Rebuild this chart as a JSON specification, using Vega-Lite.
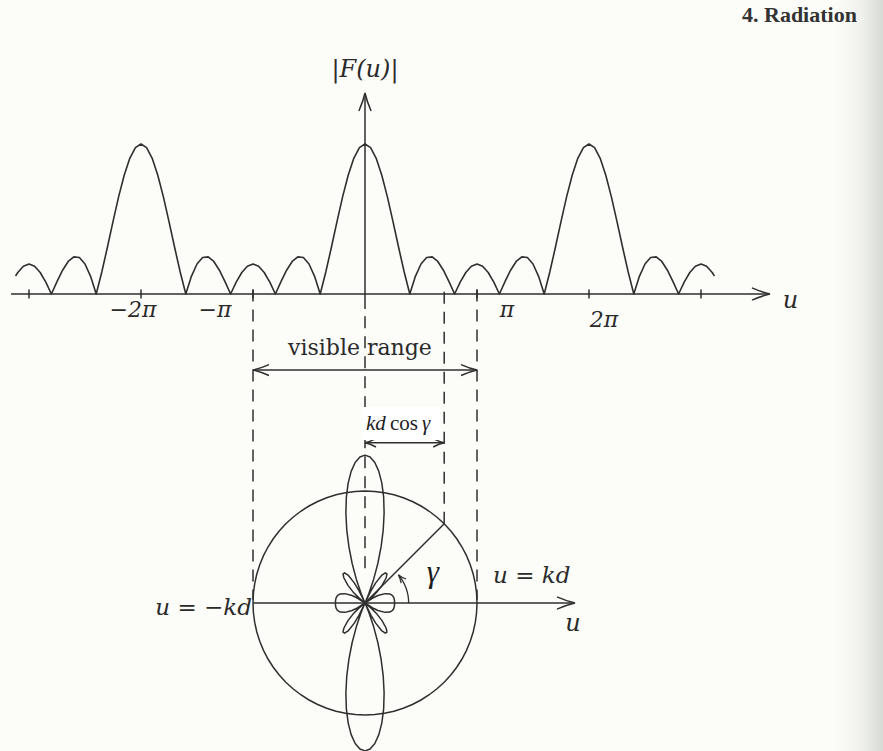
{
  "$schema": "https://vega.github.io/schema/vega-lite/v6.json",
  "width": 883,
  "height": 751,
  "padding": 0,
  "autosize": "none",
  "background": "#fcfcf9",
  "config": {"view": {"stroke": null}},
  "encoding": {
    "x": {"field": "x", "type": "quantitative", "scale": {"domain": [-3.2589, 4.625], "nice": false, "zero": false}, "axis": null}
  },
  "resolve": {"scale": {"y": "independent"}},
  "layer": [
    {
      "encoding": {
        "y": {"field": "y", "type": "quantitative", "scale": {"domain": [-3.0467, 1.96], "nice": false, "zero": false}, "axis": null}
      },
      "layer": [
        {
          "data": {"values": [
            {"x": -3.12, "y": 0.1197}, {"x": -3.1, "y": 0.1432}, {"x": -3.05, "y": 0.1853}, {"x": -3.0, "y": 0.2},
            {"x": -2.95, "y": 0.1853}, {"x": -2.9, "y": 0.1432}, {"x": -2.85, "y": 0.0787}, {"x": -2.8, "y": 0},
            {"x": -2.75, "y": 0.0828}, {"x": -2.7, "y": 0.1587}, {"x": -2.65, "y": 0.2167}, {"x": -2.6, "y": 0.2472},
            {"x": -2.55, "y": 0.243}, {"x": -2.5, "y": 0.2}, {"x": -2.45, "y": 0.1179}, {"x": -2.4, "y": 0},
            {"x": -2.35, "y": 0.1465}, {"x": -2.3, "y": 0.3115}, {"x": -2.25, "y": 0.4828}, {"x": -2.2, "y": 0.6472},
            {"x": -2.15, "y": 0.7917}, {"x": -2.1, "y": 0.9042}, {"x": -2.05, "y": 0.9755}, {"x": -2.0, "y": 1},
            {"x": -1.95, "y": 0.9755}, {"x": -1.9, "y": 0.9042}, {"x": -1.85, "y": 0.7917}, {"x": -1.8, "y": 0.6472},
            {"x": -1.75, "y": 0.4828}, {"x": -1.7, "y": 0.3115}, {"x": -1.65, "y": 0.1465}, {"x": -1.6, "y": 0},
            {"x": -1.55, "y": 0.1179}, {"x": -1.5, "y": 0.2}, {"x": -1.45, "y": 0.243}, {"x": -1.4, "y": 0.2472},
            {"x": -1.35, "y": 0.2167}, {"x": -1.3, "y": 0.1587}, {"x": -1.25, "y": 0.0828}, {"x": -1.2, "y": 0},
            {"x": -1.15, "y": 0.0787}, {"x": -1.1, "y": 0.1432}, {"x": -1.05, "y": 0.1853}, {"x": -1.0, "y": 0.2},
            {"x": -0.95, "y": 0.1853}, {"x": -0.9, "y": 0.1432}, {"x": -0.85, "y": 0.0787}, {"x": -0.8, "y": 0},
            {"x": -0.75, "y": 0.0828}, {"x": -0.7, "y": 0.1587}, {"x": -0.65, "y": 0.2167}, {"x": -0.6, "y": 0.2472},
            {"x": -0.55, "y": 0.243}, {"x": -0.5, "y": 0.2}, {"x": -0.45, "y": 0.1179}, {"x": -0.4, "y": 0},
            {"x": -0.35, "y": 0.1465}, {"x": -0.3, "y": 0.3115}, {"x": -0.25, "y": 0.4828}, {"x": -0.2, "y": 0.6472},
            {"x": -0.15, "y": 0.7917}, {"x": -0.1, "y": 0.9042}, {"x": -0.05, "y": 0.9755}, {"x": 0.0, "y": 1},
            {"x": 0.05, "y": 0.9755}, {"x": 0.1, "y": 0.9042}, {"x": 0.15, "y": 0.7917}, {"x": 0.2, "y": 0.6472},
            {"x": 0.25, "y": 0.4828}, {"x": 0.3, "y": 0.3115}, {"x": 0.35, "y": 0.1465}, {"x": 0.4, "y": 0},
            {"x": 0.45, "y": 0.1179}, {"x": 0.5, "y": 0.2}, {"x": 0.55, "y": 0.243}, {"x": 0.6, "y": 0.2472},
            {"x": 0.65, "y": 0.2167}, {"x": 0.7, "y": 0.1587}, {"x": 0.75, "y": 0.0828}, {"x": 0.8, "y": 0},
            {"x": 0.85, "y": 0.0787}, {"x": 0.9, "y": 0.1432}, {"x": 0.95, "y": 0.1853}, {"x": 1.0, "y": 0.2},
            {"x": 1.05, "y": 0.1853}, {"x": 1.1, "y": 0.1432}, {"x": 1.15, "y": 0.0787}, {"x": 1.2, "y": 0},
            {"x": 1.25, "y": 0.0828}, {"x": 1.3, "y": 0.1587}, {"x": 1.35, "y": 0.2167}, {"x": 1.4, "y": 0.2472},
            {"x": 1.45, "y": 0.243}, {"x": 1.5, "y": 0.2}, {"x": 1.55, "y": 0.1179}, {"x": 1.6, "y": 0},
            {"x": 1.65, "y": 0.1465}, {"x": 1.7, "y": 0.3115}, {"x": 1.75, "y": 0.4828}, {"x": 1.8, "y": 0.6472},
            {"x": 1.85, "y": 0.7917}, {"x": 1.9, "y": 0.9042}, {"x": 1.95, "y": 0.9755}, {"x": 2.0, "y": 1},
            {"x": 2.05, "y": 0.9755}, {"x": 2.1, "y": 0.9042}, {"x": 2.15, "y": 0.7917}, {"x": 2.2, "y": 0.6472},
            {"x": 2.25, "y": 0.4828}, {"x": 2.3, "y": 0.3115}, {"x": 2.35, "y": 0.1465}, {"x": 2.4, "y": 0},
            {"x": 2.45, "y": 0.1179}, {"x": 2.5, "y": 0.2}, {"x": 2.55, "y": 0.243}, {"x": 2.6, "y": 0.2472},
            {"x": 2.65, "y": 0.2167}, {"x": 2.7, "y": 0.1587}, {"x": 2.75, "y": 0.0828}, {"x": 2.8, "y": 0},
            {"x": 2.85, "y": 0.0787}, {"x": 2.9, "y": 0.1432}, {"x": 2.95, "y": 0.1853}, {"x": 3.0, "y": 0.2},
            {"x": 3.05, "y": 0.1853}, {"x": 3.1, "y": 0.1432}, {"x": 3.12, "y": 0.1197}
          ]},
          "mark": {"type": "line", "color": "#2f2f2f", "strokeWidth": 1.6, "strokeJoin": "round"}
        },
        {
          "data": {"values": [
            {"x": -3.16, "x2": 3.6, "y": 0, "y2": 0},
            {"x": 0, "x2": 0, "y": -0.1, "y2": 1.33},
            {"x": -3, "x2": -3, "y": -0.03, "y2": 0.03},
            {"x": -2, "x2": -2, "y": -0.03, "y2": 0.03},
            {"x": -1, "x2": -1, "y": -0.03, "y2": 0.03},
            {"x": 1, "x2": 1, "y": -0.03, "y2": 0.03},
            {"x": 2, "x2": 2, "y": -0.03, "y2": 0.03},
            {"x": 3, "x2": 3, "y": -0.03, "y2": 0.03}
          ]},
          "mark": {"type": "rule", "color": "#2f2f2f", "strokeWidth": 1.5},
          "encoding": {"x2": {"field": "x2"}, "y2": {"field": "y2"}}
        },
        {
          "data": {"values": [{"x": 3.616, "y": 0}]},
          "mark": {"type": "point", "shape": "M-1,-0.34Q-0.45,-0.1 0,0Q-0.45,0.1 -1,0.34", "filled": false, "size": 1296, "angle": 0, "stroke": "#2f2f2f", "strokeWidth": 1.5, "opacity": 1}
        },
        {
          "data": {"values": [{"x": 0, "y": 1.34}]},
          "mark": {"type": "point", "shape": "M-1,-0.34Q-0.45,-0.1 0,0Q-0.45,0.1 -1,0.34", "filled": false, "size": 1296, "angle": 270, "stroke": "#2f2f2f", "strokeWidth": 1.5, "opacity": 1}
        },
        {
          "data": {"values": [{"x": 0, "y": 1.447, "label": "|F(u)|"}]},
          "mark": {"type": "text", "font": "DejaVu Serif", "fontStyle": "italic", "fontSize": 24, "align": "center", "baseline": "alphabetic", "color": "#2a2a2a"},
          "encoding": {"text": {"field": "label"}}
        },
        {
          "data": {"values": [{"x": 3.8, "y": -0.093, "label": "u"}]},
          "mark": {"type": "text", "font": "DejaVu Serif", "fontStyle": "italic", "fontSize": 24, "align": "center", "baseline": "alphabetic", "color": "#2a2a2a"},
          "encoding": {"text": {"field": "label"}}
        },
        {
          "data": {"values": [
            {"x": -2.071, "y": -0.153, "label": "−2π"},
            {"x": -1.339, "y": -0.153, "label": "−π"},
            {"x": 1.268, "y": -0.153, "label": "π"},
            {"x": 2.134, "y": -0.22, "label": "2π"}
          ]},
          "mark": {"type": "text", "font": "DejaVu Serif", "fontStyle": "italic", "fontSize": 22, "align": "center", "baseline": "alphabetic", "color": "#2a2a2a"},
          "encoding": {"text": {"field": "label"}}
        }
      ]
    },
    {
      "encoding": {
        "y": {"field": "y", "type": "quantitative", "scale": {"domain": [-1.3214, 5.3839], "nice": false, "zero": false}, "axis": null}
      },
      "layer": [
        {
          "data": {"values": [{"x": 4.196, "x2": 4.625, "y": -1.3214, "y2": 5.3839}]},
          "mark": {"type": "rect", "fill": {"x1": 0, "y1": 0, "x2": 1, "y2": 0, "gradient": "linear", "stops": [{"offset": 0, "color": "#fcfcf9"}, {"offset": 0.55, "color": "#f0f1ed"}, {"offset": 1, "color": "#d6dad4"}]}},
          "encoding": {"x2": {"field": "x2"}, "y2": {"field": "y2"}}
        },
        {
          "data": {"values": [
            {"deg": 0, "x": 1, "y": 0}, {"deg": 5, "x": 0.9962, "y": 0.0872}, {"deg": 10, "x": 0.9848, "y": 0.1736},
            {"deg": 15, "x": 0.9659, "y": 0.2588}, {"deg": 20, "x": 0.9397, "y": 0.342}, {"deg": 25, "x": 0.9063, "y": 0.4226},
            {"deg": 30, "x": 0.866, "y": 0.5}, {"deg": 35, "x": 0.8192, "y": 0.5736}, {"deg": 40, "x": 0.766, "y": 0.6428},
            {"deg": 45, "x": 0.7071, "y": 0.7071}, {"deg": 50, "x": 0.6428, "y": 0.766}, {"deg": 55, "x": 0.5736, "y": 0.8192},
            {"deg": 60, "x": 0.5, "y": 0.866}, {"deg": 65, "x": 0.4226, "y": 0.9063}, {"deg": 70, "x": 0.342, "y": 0.9397},
            {"deg": 75, "x": 0.2588, "y": 0.9659}, {"deg": 80, "x": 0.1736, "y": 0.9848}, {"deg": 85, "x": 0.0872, "y": 0.9962},
            {"deg": 90, "x": 0, "y": 1}, {"deg": 95, "x": -0.0872, "y": 0.9962}, {"deg": 100, "x": -0.1736, "y": 0.9848},
            {"deg": 105, "x": -0.2588, "y": 0.9659}, {"deg": 110, "x": -0.342, "y": 0.9397}, {"deg": 115, "x": -0.4226, "y": 0.9063},
            {"deg": 120, "x": -0.5, "y": 0.866}, {"deg": 125, "x": -0.5736, "y": 0.8192}, {"deg": 130, "x": -0.6428, "y": 0.766},
            {"deg": 135, "x": -0.7071, "y": 0.7071}, {"deg": 140, "x": -0.766, "y": 0.6428}, {"deg": 145, "x": -0.8192, "y": 0.5736},
            {"deg": 150, "x": -0.866, "y": 0.5}, {"deg": 155, "x": -0.9063, "y": 0.4226}, {"deg": 160, "x": -0.9397, "y": 0.342},
            {"deg": 165, "x": -0.9659, "y": 0.2588}, {"deg": 170, "x": -0.9848, "y": 0.1736}, {"deg": 175, "x": -0.9962, "y": 0.0872},
            {"deg": 180, "x": -1, "y": 0}, {"deg": 185, "x": -0.9962, "y": -0.0872}, {"deg": 190, "x": -0.9848, "y": -0.1736},
            {"deg": 195, "x": -0.9659, "y": -0.2588}, {"deg": 200, "x": -0.9397, "y": -0.342}, {"deg": 205, "x": -0.9063, "y": -0.4226},
            {"deg": 210, "x": -0.866, "y": -0.5}, {"deg": 215, "x": -0.8192, "y": -0.5736}, {"deg": 220, "x": -0.766, "y": -0.6428},
            {"deg": 225, "x": -0.7071, "y": -0.7071}, {"deg": 230, "x": -0.6428, "y": -0.766}, {"deg": 235, "x": -0.5736, "y": -0.8192},
            {"deg": 240, "x": -0.5, "y": -0.866}, {"deg": 245, "x": -0.4226, "y": -0.9063}, {"deg": 250, "x": -0.342, "y": -0.9397},
            {"deg": 255, "x": -0.2588, "y": -0.9659}, {"deg": 260, "x": -0.1736, "y": -0.9848}, {"deg": 265, "x": -0.0872, "y": -0.9962},
            {"deg": 270, "x": 0, "y": -1}, {"deg": 275, "x": 0.0872, "y": -0.9962}, {"deg": 280, "x": 0.1736, "y": -0.9848},
            {"deg": 285, "x": 0.2588, "y": -0.9659}, {"deg": 290, "x": 0.342, "y": -0.9397}, {"deg": 295, "x": 0.4226, "y": -0.9063},
            {"deg": 300, "x": 0.5, "y": -0.866}, {"deg": 305, "x": 0.5736, "y": -0.8192}, {"deg": 310, "x": 0.6428, "y": -0.766},
            {"deg": 315, "x": 0.7071, "y": -0.7071}, {"deg": 320, "x": 0.766, "y": -0.6428}, {"deg": 325, "x": 0.8192, "y": -0.5736},
            {"deg": 330, "x": 0.866, "y": -0.5}, {"deg": 335, "x": 0.9063, "y": -0.4226}, {"deg": 340, "x": 0.9397, "y": -0.342},
            {"deg": 345, "x": 0.9659, "y": -0.2588}, {"deg": 350, "x": 0.9848, "y": -0.1736}, {"deg": 355, "x": 0.9962, "y": -0.0872},
            {"deg": 360, "x": 1, "y": 0}
          ]},
          "mark": {"type": "line", "color": "#2f2f2f", "strokeWidth": 1.5},
          "encoding": {"order": {"field": "deg", "type": "quantitative"}}
        },
        {
          "data": {"values": [
            {"deg": 0, "x": 0.264, "y": 0}, {"deg": 5, "x": 0.263, "y": 0.023}, {"deg": 10, "x": 0.2582, "y": 0.0455},
            {"deg": 15, "x": 0.2462, "y": 0.066}, {"deg": 20, "x": 0.2218, "y": 0.0807}, {"deg": 25, "x": 0.1793, "y": 0.0836},
            {"deg": 30, "x": 0.1158, "y": 0.0669}, {"deg": 33, "x": 0.0684, "y": 0.0444}, {"deg": 36.87, "x": 0, "y": 0},
            {"deg": 40, "x": 0.0571, "y": 0.048}, {"deg": 43, "x": 0.1086, "y": 0.1013}, {"deg": 46, "x": 0.1522, "y": 0.1576},
            {"deg": 50, "x": 0.1892, "y": 0.2255}, {"deg": 53, "x": 0.196, "y": 0.26}, {"deg": 56, "x": 0.182, "y": 0.2698},
            {"deg": 59, "x": 0.1477, "y": 0.2458}, {"deg": 62, "x": 0.0955, "y": 0.1797}, {"deg": 64, "x": 0.0542, "y": 0.1111},
            {"deg": 66.42, "x": 0, "y": 0}, {"deg": 68, "x": 0.0354, "y": 0.0875}, {"deg": 70, "x": 0.0775, "y": 0.2129},
            {"deg": 72, "x": 0.1146, "y": 0.3528}, {"deg": 74, "x": 0.1435, "y": 0.5005}, {"deg": 76, "x": 0.1629, "y": 0.6536},
            {"deg": 78, "x": 0.1707, "y": 0.8033}, {"deg": 80, "x": 0.1666, "y": 0.9448}, {"deg": 82, "x": 0.1504, "y": 1.0702},
            {"deg": 84, "x": 0.1235, "y": 1.175}, {"deg": 86, "x": 0.0878, "y": 1.2546}, {"deg": 88, "x": 0.0455, "y": 1.3035},
            {"deg": 90, "x": 0, "y": 1.32},
            {"deg": 92, "x": -0.0455, "y": 1.3035}, {"deg": 94, "x": -0.0878, "y": 1.2546}, {"deg": 96, "x": -0.1235, "y": 1.175},
            {"deg": 98, "x": -0.1504, "y": 1.0702}, {"deg": 100, "x": -0.1666, "y": 0.9448}, {"deg": 102, "x": -0.1707, "y": 0.8033},
            {"deg": 104, "x": -0.1629, "y": 0.6536}, {"deg": 106, "x": -0.1435, "y": 0.5005}, {"deg": 108, "x": -0.1146, "y": 0.3528},
            {"deg": 110, "x": -0.0775, "y": 0.2129}, {"deg": 112, "x": -0.0354, "y": 0.0875}, {"deg": 113.58, "x": 0, "y": 0},
            {"deg": 116, "x": -0.0542, "y": 0.1111}, {"deg": 118, "x": -0.0955, "y": 0.1797}, {"deg": 121, "x": -0.1477, "y": 0.2458},
            {"deg": 124, "x": -0.182, "y": 0.2698}, {"deg": 127, "x": -0.196, "y": 0.26}, {"deg": 130, "x": -0.1892, "y": 0.2255},
            {"deg": 134, "x": -0.1522, "y": 0.1576}, {"deg": 137, "x": -0.1086, "y": 0.1013}, {"deg": 140, "x": -0.0571, "y": 0.048},
            {"deg": 143.13, "x": 0, "y": 0}, {"deg": 147, "x": -0.0684, "y": 0.0444}, {"deg": 150, "x": -0.1158, "y": 0.0669},
            {"deg": 155, "x": -0.1793, "y": 0.0836}, {"deg": 160, "x": -0.2218, "y": 0.0807}, {"deg": 165, "x": -0.2462, "y": 0.066},
            {"deg": 170, "x": -0.2582, "y": 0.0455}, {"deg": 175, "x": -0.263, "y": 0.023}, {"deg": 180, "x": -0.264, "y": 0},
            {"deg": 185, "x": -0.263, "y": -0.023}, {"deg": 190, "x": -0.2582, "y": -0.0455}, {"deg": 195, "x": -0.2462, "y": -0.066},
            {"deg": 200, "x": -0.2218, "y": -0.0807}, {"deg": 205, "x": -0.1793, "y": -0.0836}, {"deg": 210, "x": -0.1158, "y": -0.0669},
            {"deg": 213, "x": -0.0684, "y": -0.0444}, {"deg": 216.87, "x": 0, "y": 0}, {"deg": 220, "x": -0.0571, "y": -0.048},
            {"deg": 223, "x": -0.1086, "y": -0.1013}, {"deg": 226, "x": -0.1522, "y": -0.1576}, {"deg": 230, "x": -0.1892, "y": -0.2255},
            {"deg": 233, "x": -0.196, "y": -0.26}, {"deg": 236, "x": -0.182, "y": -0.2698}, {"deg": 239, "x": -0.1477, "y": -0.2458},
            {"deg": 242, "x": -0.0955, "y": -0.1797}, {"deg": 244, "x": -0.0542, "y": -0.1111}, {"deg": 246.42, "x": 0, "y": 0},
            {"deg": 248, "x": -0.0354, "y": -0.0875}, {"deg": 250, "x": -0.0775, "y": -0.2129}, {"deg": 252, "x": -0.1146, "y": -0.3528},
            {"deg": 254, "x": -0.1435, "y": -0.5005}, {"deg": 256, "x": -0.1629, "y": -0.6536}, {"deg": 258, "x": -0.1707, "y": -0.8033},
            {"deg": 260, "x": -0.1666, "y": -0.9448}, {"deg": 262, "x": -0.1504, "y": -1.0702}, {"deg": 264, "x": -0.1235, "y": -1.175},
            {"deg": 266, "x": -0.0878, "y": -1.2546}, {"deg": 268, "x": -0.0455, "y": -1.3035}, {"deg": 270, "x": 0, "y": -1.32},
            {"deg": 272, "x": 0.0455, "y": -1.3035}, {"deg": 274, "x": 0.0878, "y": -1.2546}, {"deg": 276, "x": 0.1235, "y": -1.175},
            {"deg": 278, "x": 0.1504, "y": -1.0702}, {"deg": 280, "x": 0.1666, "y": -0.9448}, {"deg": 282, "x": 0.1707, "y": -0.8033},
            {"deg": 284, "x": 0.1629, "y": -0.6536}, {"deg": 286, "x": 0.1435, "y": -0.5005}, {"deg": 288, "x": 0.1146, "y": -0.3528},
            {"deg": 290, "x": 0.0775, "y": -0.2129}, {"deg": 292, "x": 0.0354, "y": -0.0875}, {"deg": 293.58, "x": 0, "y": 0},
            {"deg": 296, "x": 0.0542, "y": -0.1111}, {"deg": 298, "x": 0.0955, "y": -0.1797}, {"deg": 301, "x": 0.1477, "y": -0.2458},
            {"deg": 304, "x": 0.182, "y": -0.2698}, {"deg": 307, "x": 0.196, "y": -0.26}, {"deg": 310, "x": 0.1892, "y": -0.2255},
            {"deg": 314, "x": 0.1522, "y": -0.1576}, {"deg": 317, "x": 0.1086, "y": -0.1013}, {"deg": 320, "x": 0.0571, "y": -0.048},
            {"deg": 323.13, "x": 0, "y": 0}, {"deg": 327, "x": 0.0684, "y": -0.0444}, {"deg": 330, "x": 0.1158, "y": -0.0669},
            {"deg": 335, "x": 0.1793, "y": -0.0836}, {"deg": 340, "x": 0.2218, "y": -0.0807}, {"deg": 345, "x": 0.2462, "y": -0.066},
            {"deg": 350, "x": 0.2582, "y": -0.0455}, {"deg": 355, "x": 0.263, "y": -0.023}, {"deg": 360, "x": 0.264, "y": 0}
          ]},
          "mark": {"type": "line", "color": "#2f2f2f", "strokeWidth": 1.5, "strokeJoin": "round"},
          "encoding": {"order": {"field": "deg", "type": "quantitative"}}
        },
        {
          "data": {"values": [
            {"x": -1, "x2": -1, "y": 2.8, "y2": 0.03},
            {"x": 0, "x2": 0, "y": 2.56, "y2": 0.3},
            {"x": 0.7071, "x2": 0.7071, "y": 2.78, "y2": 0.7071},
            {"x": 1, "x2": 1, "y": 2.8, "y2": 0.03}
          ]},
          "mark": {"type": "rule", "color": "#2f2f2f", "strokeWidth": 1.5, "strokeDash": [12, 8]},
          "encoding": {"x2": {"field": "x2"}, "y2": {"field": "y2"}}
        },
        {
          "data": {"values": [
            {"x": -1, "x2": 1.86, "y": 0, "y2": 0},
            {"x": 0, "x2": 0.7071, "y": 0, "y2": 0.7071},
            {"x": -1, "x2": 1, "y": 2.08, "y2": 2.08},
            {"x": 0, "x2": 0.7071, "y": 1.43, "y2": 1.43}
          ]},
          "mark": {"type": "rule", "color": "#2f2f2f", "strokeWidth": 1.5},
          "encoding": {"x2": {"field": "x2"}, "y2": {"field": "y2"}}
        },
        {
          "data": {"values": [
            {"deg": 0, "x": 0.39, "y": 0}, {"deg": 5, "x": 0.3885, "y": 0.034}, {"deg": 10, "x": 0.3841, "y": 0.0677},
            {"deg": 15, "x": 0.3767, "y": 0.1009}, {"deg": 20, "x": 0.3665, "y": 0.1334}, {"deg": 25, "x": 0.3535, "y": 0.1648},
            {"deg": 30, "x": 0.3377, "y": 0.195}, {"deg": 35, "x": 0.3195, "y": 0.2237}, {"deg": 40, "x": 0.2988, "y": 0.2507}
          ]},
          "mark": {"type": "line", "color": "#2f2f2f", "strokeWidth": 1.3},
          "encoding": {"order": {"field": "deg", "type": "quantitative"}}
        },
        {
          "data": {"values": [{"x": 0.2988, "y": 0.2507}]},
          "mark": {"type": "point", "shape": "M-1,-0.4Q-0.45,-0.1 0,0Q-0.45,0.1 -1,0.4", "filled": false, "size": 256, "angle": 230, "stroke": "#2f2f2f", "strokeWidth": 1.3, "opacity": 1}
        },
        {
          "data": {"values": [{"x": 1.875, "y": 0}]},
          "mark": {"type": "point", "shape": "M-1,-0.34Q-0.45,-0.1 0,0Q-0.45,0.1 -1,0.34", "filled": false, "size": 1296, "angle": 0, "stroke": "#2f2f2f", "strokeWidth": 1.5, "opacity": 1}
        },
        {
          "data": {"values": [{"x": 1, "y": 2.08}]},
          "mark": {"type": "point", "shape": "M-1,-0.34Q-0.45,-0.1 0,0Q-0.45,0.1 -1,0.34", "filled": false, "size": 1024, "angle": 0, "stroke": "#2f2f2f", "strokeWidth": 1.5, "opacity": 1}
        },
        {
          "data": {"values": [{"x": -1, "y": 2.08}]},
          "mark": {"type": "point", "shape": "M-1,-0.34Q-0.45,-0.1 0,0Q-0.45,0.1 -1,0.34", "filled": false, "size": 1024, "angle": 180, "stroke": "#2f2f2f", "strokeWidth": 1.5, "opacity": 1}
        },
        {
          "data": {"values": [{"x": 0.7071, "y": 1.43}]},
          "mark": {"type": "point", "shape": "M-1,-0.38Q-0.45,-0.1 0,0Q-0.45,0.1 -1,0.38", "filled": false, "size": 484, "angle": 0, "stroke": "#2f2f2f", "strokeWidth": 1.5, "opacity": 1}
        },
        {
          "data": {"values": [{"x": 0, "y": 1.43}]},
          "mark": {"type": "point", "shape": "M-1,-0.38Q-0.45,-0.1 0,0Q-0.45,0.1 -1,0.38", "filled": false, "size": 484, "angle": 180, "stroke": "#2f2f2f", "strokeWidth": 1.5, "opacity": 1}
        },
        {
          "data": {"values": [{"x": -0.027, "x2": 0.67, "y": 1.455, "y2": 1.75}]},
          "mark": {"type": "rect", "fill": "#ffffff"},
          "encoding": {"x2": {"field": "x2"}, "y2": {"field": "y2"}}
        },
        {
          "data": {"values": [{"x": -0.045, "y": 2.214, "label": "visible range"}]},
          "mark": {"type": "text", "font": "DejaVu Serif", "fontSize": 22, "align": "center", "baseline": "alphabetic", "color": "#2a2a2a"},
          "encoding": {"text": {"field": "label"}}
        },
        {
          "data": {"values": [{"x": 1.143, "y": 0.179, "label": "u = kd"}]},
          "mark": {"type": "text", "font": "DejaVu Serif", "fontStyle": "italic", "fontSize": 23, "align": "left", "baseline": "alphabetic", "color": "#2a2a2a"},
          "encoding": {"text": {"field": "label"}}
        },
        {
          "data": {"values": [{"x": -1.009, "y": -0.107, "label": "u = −kd"}]},
          "mark": {"type": "text", "font": "DejaVu Serif", "fontStyle": "italic", "fontSize": 23, "align": "right", "baseline": "alphabetic", "color": "#2a2a2a"},
          "encoding": {"text": {"field": "label"}}
        },
        {
          "data": {"values": [{"x": 1.857, "y": -0.25, "label": "u"}]},
          "mark": {"type": "text", "font": "DejaVu Serif", "fontStyle": "italic", "fontSize": 24, "align": "center", "baseline": "alphabetic", "color": "#2a2a2a"},
          "encoding": {"text": {"field": "label"}}
        },
        {
          "data": {"values": [{"x": 0.0089, "y": 1.545, "label": "kd"}, {"x": 0.5089, "y": 1.545, "label": "γ"}]},
          "mark": {"type": "text", "font": "Liberation Serif", "fontStyle": "italic", "fontSize": 21, "align": "left", "baseline": "alphabetic", "color": "#1e1e1e"},
          "encoding": {"text": {"field": "label"}}
        },
        {
          "data": {"values": [{"x": 0.2232, "y": 1.545, "label": "cos"}]},
          "mark": {"type": "text", "font": "Liberation Serif", "fontSize": 21, "align": "left", "baseline": "alphabetic", "color": "#1e1e1e"},
          "encoding": {"text": {"field": "label"}}
        },
        {
          "data": {"values": [{"x": 0.607, "y": 0.1875, "label": "γ"}]},
          "mark": {"type": "text", "font": "Liberation Serif", "fontStyle": "italic", "fontSize": 31, "align": "center", "baseline": "alphabetic", "color": "#1e1e1e"},
          "encoding": {"text": {"field": "label"}}
        },
        {
          "data": {"values": [{"x": 3.366, "y": 5.19, "label": "4. Radiation"}]},
          "mark": {"type": "text", "font": "Liberation Serif", "fontWeight": "bold", "fontSize": 22, "align": "left", "baseline": "alphabetic", "color": "#333333"},
          "encoding": {"text": {"field": "label"}}
        }
      ]
    }
  ]
}
